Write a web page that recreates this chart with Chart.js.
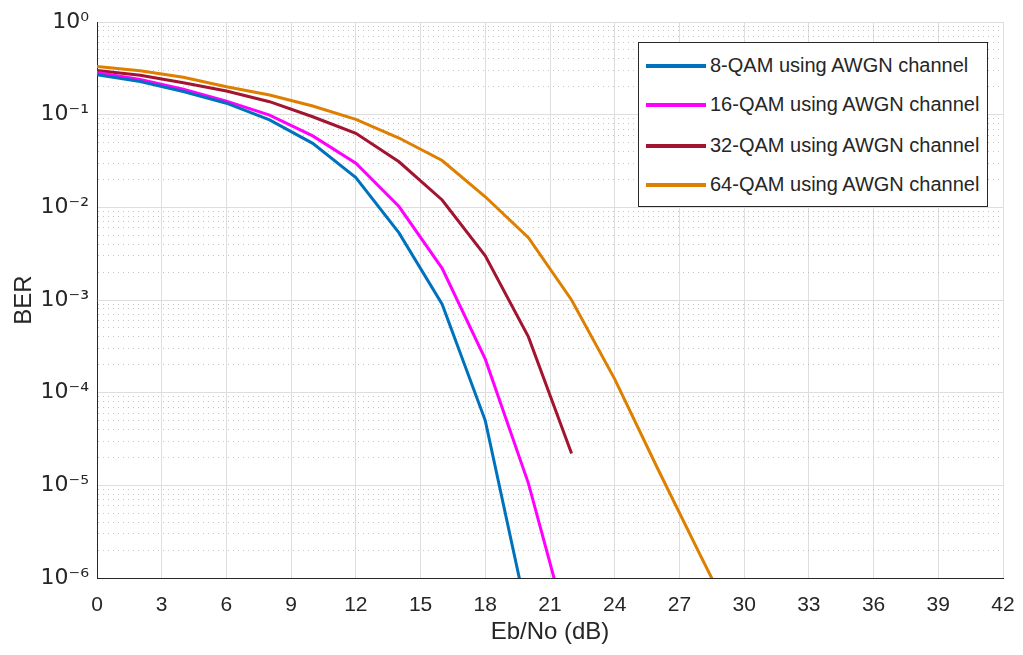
<!DOCTYPE html>
<html>
<head>
<meta charset="utf-8">
<script src="https://cdn.jsdelivr.net/npm/chart.js@4.4.1/dist/chart.umd.min.js"></script>
<style>
  html, body { margin: 0; padding: 0; background: #fff; }
  #wrap { position: relative; width: 1023px; height: 655px; }
  #berChart { position: absolute; left: 0; top: 0; }
  #legend {
    position: absolute; left: 638px; top: 42px; width: 350px; height: 165px;
    background: #fff; border: 1px solid #262626; box-sizing: border-box;
    font-family: "Liberation Sans", Arial, Helvetica, sans-serif; font-size: 20px; color: #262626;
  }
  .row { position: absolute; left: 7px; height: 24px; line-height: 24px; white-space: nowrap; }
  .row i { display: inline-block; width: 60px; height: 4px; vertical-align: middle; margin-right: 4px; position: relative; top: -1px; }
</style>
</head>
<body>
<div id="wrap">
  <canvas id="berChart" width="1023" height="655"></canvas>
  <div id="legend"></div>
</div>
<script>
// Eb/No (dB) points, one every 2 dB
const ebno = [0, 2, 4, 6, 8, 10, 12, 14, 16, 18, 20, 22, 24, 26, 28, 30];

// BER values
const ber8 = [0.27, 0.228, 0.178, 0.133, 0.088, 0.049, 0.021, 0.0053, 0.0009, 5e-5, 3.5e-7];
const ber16 = [0.285, 0.24, 0.188, 0.14, 0.099, 0.059, 0.03, 0.0102, 0.0022, 2.3e-4, 1.05e-5, 2e-7];
const ber32 = [0.3, 0.266, 0.221, 0.18, 0.138, 0.095, 0.063, 0.031, 0.012, 0.003, 4e-4, 2.2e-5];
const ber64 = [0.33, 0.298, 0.253, 0.2, 0.163, 0.124, 0.089, 0.056, 0.032, 0.013, 0.0047, 0.001, 1.4e-4, 1.5e-5, 1.7e-6, 2e-7];

const seriesNames = ['8-QAM using AWGN channel', '16-QAM using AWGN channel', '32-QAM using AWGN channel', '64-QAM using AWGN channel'];
const seriesColors = ['#0072BD', '#FF00FF', '#A2142F', '#DE7F00'];

const xTicks = [0, 3, 6, 9, 12, 15, 18, 21, 24, 27, 30, 33, 36, 39, 42];
const decades = [-6, -5, -4, -3, -2, -1, 0];

const FONT = '"Liberation Sans", Arial, Helvetica, sans-serif';
const SUP_FONT = '"DejaVu Sans", "Liberation Sans", Arial, sans-serif';
const sup = { '0': '⁰', '1': '¹', '2': '²', '3': '³', '4': '⁴', '5': '⁵', '6': '⁶', '7': '⁷', '8': '⁸', '9': '⁹', '-': '⁻' };

function isMajor(v) {
  const l = Math.log10(v);
  return Math.abs(l - Math.round(l)) < 1e-6;
}

function toPoints(arr) {
  return arr.map((v, i) => ({ x: ebno[i], y: v }));
}

const allSeries = [ber8, ber16, ber32, ber64];

const datasets = allSeries.map((arr, i) => ({
  label: seriesNames[i],
  data: toPoints(arr),
  borderColor: seriesColors[i],
  backgroundColor: seriesColors[i],
  borderWidth: 3,
  pointRadius: 0,
  tension: 0,
  fill: false
}));

// ticks du log : 1..9 x 10^k
const yTickValues = [];
decades.forEach(d => {
  if (d === 0) { yTickValues.push(1); return; }
  for (let m = 1; m <= 9; m++) yTickValues.push(m * Math.pow(10, d));
});

new Chart(document.getElementById('berChart').getContext('2d'), {
  type: 'line',
  data: { datasets: datasets },
  options: {
    responsive: false,
    animation: false,
    events: [],
    layout: { padding: { left: 0, right: 20, top: 22, bottom: 0 } },
    plugins: { legend: { display: false }, tooltip: { enabled: false } },
    scales: {
      x: {
        type: 'linear',
        min: 0,
        max: 42,
        afterBuildTicks: scale => { scale.ticks = xTicks.map(v => ({ value: v })); },
        afterFit: scale => { scale.height = 77; scale.paddingLeft = 0; scale.paddingRight = 0; },
        grid: { color: '#dedede', lineWidth: 1, drawTicks: false },
        border: { display: true, color: '#262626', width: 1 },
        ticks: { color: '#262626', padding: 15, font: { family: FONT, size: 21 }, maxRotation: 0 },
        title: { display: true, text: 'Eb/No (dB)', color: '#262626', font: { family: FONT, size: 24 }, padding: { top: 0, bottom: 8 } }
      },
      y: {
        type: 'logarithmic',
        min: 1e-6,
        max: 1,
        afterBuildTicks: scale => { scale.ticks = yTickValues.map(v => ({ value: v, major: isMajor(v) })); },
        afterFit: scale => { scale.width = 97; scale.paddingTop = 0; scale.paddingBottom = 0; },
        grid: {
          drawTicks: false,
          lineWidth: 1,
          color: ctx => (ctx.tick && !isMajor(ctx.tick.value)) ? '#c4c4c4' : '#dedede'
        },
        border: {
          display: true, color: '#262626', width: 1,
          dash: ctx => (ctx.tick && !isMajor(ctx.tick.value)) ? [1, 4] : []
        },
        ticks: {
          color: '#262626',
          padding: 8,
          autoSkip: false,
          font: { family: SUP_FONT, size: 22 },
          callback: value => {
            if (!isMajor(value)) return '';
            const e = String(Math.round(Math.log10(value)));
            return '10' + e.split('').map(c => sup[c]).join('');
          }
        },
        title: { display: true, text: 'BER', color: '#262626', font: { family: FONT, size: 24 }, padding: { top: 10, bottom: 0 } }
      }
    }
  }
});

// Légende dans un cadre en haut à droite
const legend = document.getElementById('legend');
const rowTops = [10, 49, 90, 129];
seriesNames.forEach((name, i) => {
  const row = document.createElement('div');
  row.className = 'row';
  row.style.top = rowTops[i] + 'px';
  row.innerHTML = '<i style="background:' + seriesColors[i] + '"></i>' + name;
  legend.appendChild(row);
});
</script>
</body>
</html>
